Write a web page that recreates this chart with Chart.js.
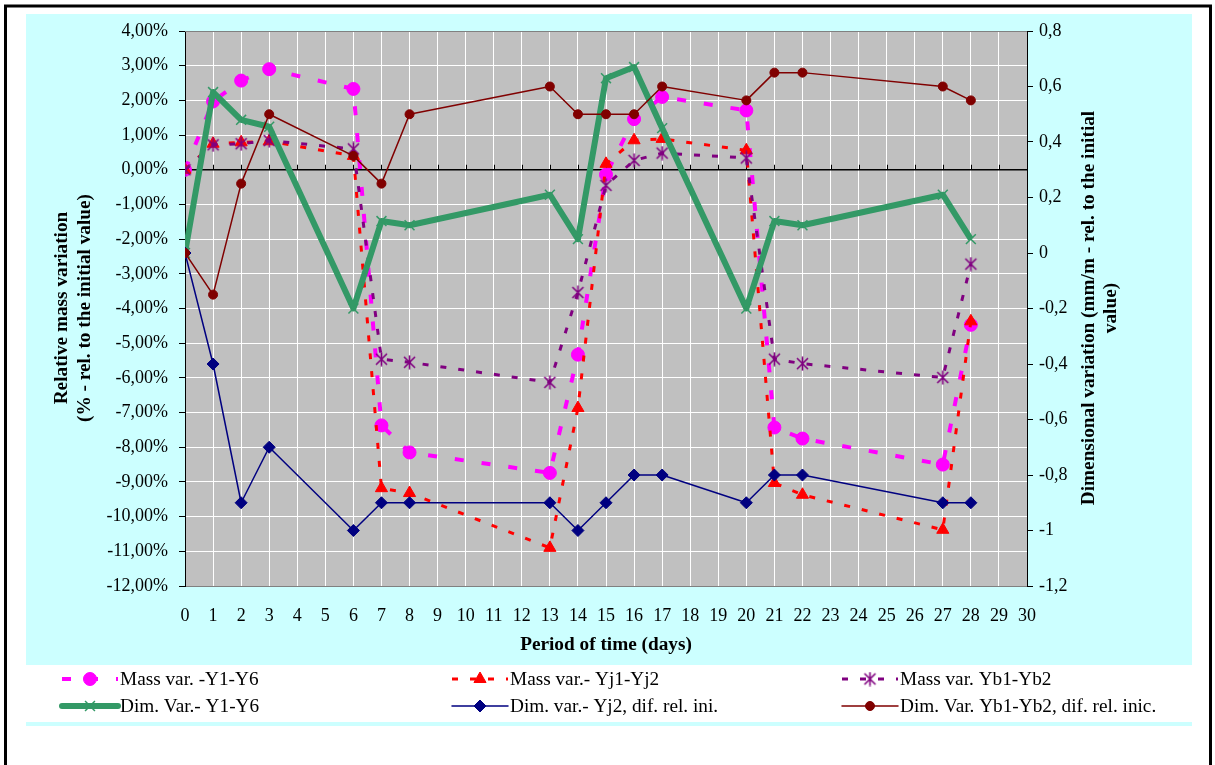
<!DOCTYPE html>
<html>
<head>
<meta charset="utf-8">
<script src="https://cdn.jsdelivr.net/npm/chart.js@4.4.1/dist/chart.umd.min.js"></script>
<style>
html,body{margin:0;padding:0;background:#fff}
#wrap{width:1215px;height:765px}
</style>
</head>
<body>
<div id="wrap"><canvas id="chart" width="1215" height="765"></canvas></div>
<script>
// days on which measurements were taken
const days=[0,1,2,3,6,7,8,13,14,15,16,17,20,21,22,27,28];

// mass variation, % (left axis)
const massY1Y6=[0,1.97,2.57,2.90,2.33,-7.37,-8.15,-8.74,-5.33,-0.14,1.46,2.10,1.71,-7.43,-7.75,-8.50,-4.47];
const massYj1Yj2=[0,0.75,0.79,0.82,0.40,-9.18,-9.32,-10.90,-6.87,0.17,0.85,0.89,0.56,-9.03,-9.37,-10.38,-4.37];
const massYb1Yb2=[0,0.72,0.75,0.84,0.60,-5.46,-5.55,-6.13,-3.54,-0.45,0.27,0.48,0.34,-5.46,-5.59,-5.99,-2.72];

// dimensional variation, mm/m (right axis)
const dimY1Y6=[0,0.58,0.48,0.455,-0.2,0.115,0.10,0.21,0.05,0.63,0.67,0.45,-0.2,0.115,0.10,0.21,0.05];
const dimYj2=[0,-0.4,-0.9,-0.7,-1.0,-0.9,-0.9,-0.9,-1.0,-0.9,-0.8,-0.8,-0.9,-0.8,-0.8,-0.9,-0.9];
const dimYb1Yb2=[0,-0.15,0.25,0.5,0.35,0.25,0.5,0.6,0.5,0.5,0.5,0.6,0.55,0.65,0.65,0.6,0.55];

const seriesNames=['Mass var. -Y1-Y6','Mass var.- Yj1-Yj2','Mass var. Yb1-Yb2','Dim. Var.- Y1-Y6','Dim. var.- Yj2, dif. rel. ini.','Dim. Var. Yb1-Yb2, dif. rel. inic.'];
const leftTitle=['Relative mass variation','(% - rel. to the initial value)'];
const rightTitle=['Dimensional variation (mm/m - rel. to the initial','value)'];
const xTitle='Period of time (days)';

const F='"Liberation Serif","Times New Roman",serif';
Chart.defaults.color='#000';
Chart.defaults.font.family=F;
Chart.defaults.font.size=18;

function pts(arr){return days.map((d,i)=>({x:d,y:arr[i]}));}

// excel-like asterisk marker
function starImg(color){
  const c=document.createElement('canvas');c.width=15;c.height=15;
  const g=c.getContext('2d');g.strokeStyle=color;g.lineWidth=1.6;
  g.beginPath();
  g.moveTo(2,2);g.lineTo(13,13);
  g.moveTo(13,2);g.lineTo(2,13);
  g.moveTo(7.5,0.5);g.lineTo(7.5,14.5);
  g.stroke();
  return c;
}

function ds(i,data,axis,color,width,dash,style,radius,pbw){
  return {label:seriesNames[i],data:pts(data),yAxisID:axis,order:6-i,
    borderColor:color,backgroundColor:color,borderWidth:width,borderDash:dash,
    borderCapStyle:'butt',borderJoinStyle:'round',tension:0,fill:false,
    pointStyle:style,pointRadius:radius,pointBackgroundColor:color,pointBorderColor:color,pointBorderWidth:pbw};
}

const datasets=[
  ds(0,massY1Y6,'y','#FF00FF',4,[9,18],'circle',6.5,1),
  ds(1,massYj1Yj2,'y','#FF0000',3,[6,12],'triangle',7,1),
  ds(2,massYb1Yb2,'y','#800080',3,[6,12],starImg('#800080'),7,1),
  ds(3,dimY1Y6,'y2','#339966',6,[],'crossRot',7,1.5),
  ds(4,dimYj2,'y2','#000080',1.5,[],'rectRot',6,1),
  ds(5,dimYb1Yb2,'y2','#800000',1.5,[],'circle',4.5,1)
];

function txt(ctx,s,x,y,font,rot,sx){
  ctx.save();ctx.translate(x,y);ctx.rotate(rot);ctx.scale(sx,1);
  ctx.font=font;ctx.fillStyle='#000';ctx.textAlign='center';ctx.textBaseline='middle';
  ctx.fillText(s,0,0);ctx.restore();
}

const frame={
  id:'frame',
  beforeDraw(chart){
    const ctx=chart.ctx,a=chart.chartArea;
    ctx.save();
    ctx.fillStyle='#fff';ctx.fillRect(0,0,1215,765);
    ctx.fillStyle='#CCFFFF';ctx.fillRect(26,14,1166,712);
    ctx.fillStyle='#fff';ctx.fillRect(26,665,1166,57);
    ctx.strokeStyle='#000';ctx.lineWidth=3;ctx.strokeRect(5.5,6,1205,790);
    ctx.fillStyle='#C0C0C0';ctx.fillRect(a.left,a.top,a.right-a.left,a.bottom-a.top);
    ctx.restore();
  },
  beforeDatasetsDraw(chart){
    const ctx=chart.ctx,a=chart.chartArea,sx=chart.scales.x,y0=chart.scales.y.getPixelForValue(0);
    ctx.save();
    ctx.strokeStyle='#808080';ctx.lineWidth=1;
    ctx.beginPath();ctx.moveTo(a.left,a.top+0.5);ctx.lineTo(a.right,a.top+0.5);ctx.stroke();
    ctx.strokeStyle='#000';ctx.lineWidth=1.5;
    ctx.beginPath();ctx.moveTo(a.left,y0);ctx.lineTo(a.right,y0);ctx.stroke();
    ctx.lineWidth=1;ctx.beginPath();
    for(let d=0;d<=30;d++){const px=Math.round(sx.getPixelForValue(d))+0.5;ctx.moveTo(px,y0-5);ctx.lineTo(px,y0);}
    ctx.stroke();
    ctx.restore();
  },
  afterDraw(chart){
    const ctx=chart.ctx;
    const bold='bold 18px '+F,reg='18px '+F;
    txt(ctx,leftTitle[0],62,308,bold,-Math.PI/2,1.07);
    txt(ctx,leftTitle[1],85,308,bold,-Math.PI/2,1.07);
    txt(ctx,rightTitle[0],1089,308,bold,-Math.PI/2,1.07);
    txt(ctx,rightTitle[1],1111,308,bold,-Math.PI/2,1.07);
    txt(ctx,xTitle,606,645,bold,0,1.07);

    // legend
    const cols=[120,510,900],rows=[679,706];
    chart.data.datasets.forEach((d,i)=>{
      const tx=cols[i%3],y=rows[Math.floor(i/3)];
      const x0=tx-58,x1=tx-2,xm=(x0+x1)/2;
      ctx.save();
      ctx.strokeStyle=d.borderColor;ctx.lineWidth=d.borderWidth;
      ctx.setLineDash(d.borderDash);ctx.lineCap=d.borderDash.length?'butt':'round';
      ctx.beginPath();ctx.moveTo(x0,y);ctx.lineTo(x1,y);ctx.stroke();
      ctx.setLineDash([]);ctx.lineCap='butt';
      ctx.fillStyle=d.pointBackgroundColor;ctx.strokeStyle=d.pointBorderColor;ctx.lineWidth=d.pointBorderWidth;
      Chart.helpers.drawPoint(ctx,{pointStyle:d.pointStyle,radius:d.pointRadius,borderWidth:d.pointBorderWidth,rotation:0},xm,y);
      ctx.restore();
      ctx.save();ctx.translate(tx,y);ctx.scale(1.07,1);
      ctx.font=reg;ctx.fillStyle='#000';ctx.textAlign='left';ctx.textBaseline='middle';
      ctx.fillText(d.label,0,1);ctx.restore();
    });
  }
};

new Chart(document.getElementById('chart'),{
  type:'line',
  data:{datasets},
  options:{
    responsive:false,animation:false,devicePixelRatio:1,
    layout:{padding:{top:31,left:0,right:0,bottom:0}},
    plugins:{legend:{display:false},tooltip:{enabled:false}},
    scales:{
      x:{type:'linear',position:'bottom',min:0,max:30,
        ticks:{stepSize:1,autoSkip:false,maxRotation:0,padding:19,color:'#000'},
        grid:{color:'#fff',lineWidth:1,drawTicks:false},
        border:{color:'#808080',width:1},
        afterFit(s){s.height=179;}},
      y:{type:'linear',position:'left',min:-12,max:4,
        ticks:{stepSize:1,padding:11,color:'#000',callback:v=>v.toFixed(2).replace('.',',')+'%'},
        grid:{color:'#fff',lineWidth:1,tickColor:'#000',tickLength:6},
        border:{color:'#000',width:1},
        afterFit(s){s.width=185;}},
      y2:{type:'linear',position:'right',min:-1.2,max:0.8,
        ticks:{stepSize:0.2,padding:6,color:'#000',callback:v=>String(Math.round(v*10)/10).replace('.',',')},
        grid:{drawOnChartArea:false,tickColor:'#000',tickLength:6},
        border:{color:'#000',width:1},
        afterFit(s){s.width=188;}}
    }
  },
  plugins:[frame]
});
</script>
</body>
</html>
